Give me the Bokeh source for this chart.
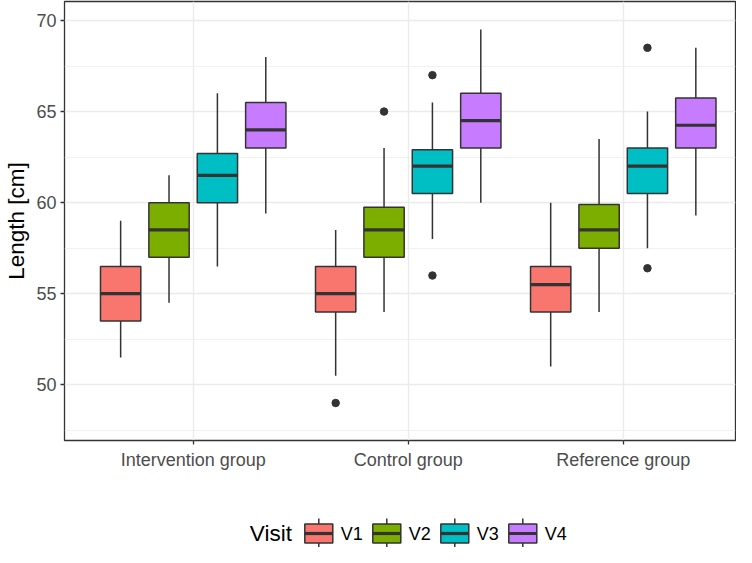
from bokeh.plotting import figure
from bokeh.models import ColumnDataSource, FixedTicker, Range1d
from bokeh.layouts import column
from bokeh.embed import file_html
from bokeh.resources import INLINE
from bokeh.core.properties import value

# ---------------- data ----------------
groups = ["Intervention group", "Control group", "Reference group"]
visits = ["V1", "V2", "V3", "V4"]
colors = ["#F8766D", "#7CAE00", "#00BFC4", "#C77CFF"]

# box statistics, group-major order (group x visit)
whisker_low = [51.5, 54.5, 56.5, 59.4,
               50.5, 54.0, 58.0, 60.0,
               51.0, 54.0, 57.5, 59.3]
q1 = [53.5, 57.0, 60.0, 63.0,
      54.0, 57.0, 60.5, 63.0,
      54.0, 57.5, 60.5, 63.0]
median = [55.0, 58.5, 61.5, 64.0,
          55.0, 58.5, 62.0, 64.5,
          55.5, 58.5, 62.0, 64.25]
q3 = [56.5, 60.0, 62.7, 65.5,
      56.5, 59.75, 62.9, 66.0,
      56.5, 59.9, 63.0, 65.75]
whisker_high = [59.0, 61.5, 66.0, 68.0,
                58.5, 63.0, 65.5, 69.5,
                60.0, 63.5, 65.0, 68.5]

out_group = ["Control group", "Control group", "Control group", "Control group",
             "Reference group", "Reference group"]
out_visit = ["V1", "V2", "V3", "V3", "V3", "V3"]
out_value = [49.0, 65.0, 67.0, 56.0, 68.5, 56.4]

y_ticks = [50, 55, 60, 65, 70]
y_minor = [47.5, 52.5, 57.5, 62.5, 67.5]

# ---------------- layout helpers ----------------
DODGE = 0.9
BOX_W = 0.75 / 4
FONT = "Liberation Sans"
DARK = "#333333"
W = 736
BL, BR = 64, 1
H_MAIN, H_LEG = 490, 57


def xpos(g, v):
    gi = groups.index(g)
    vi = visits.index(v)
    return gi + 1 + (vi - (len(visits) - 1) / 2) * DODGE / len(visits)


bx, bcol = [], []
for g in groups:
    for i, v in enumerate(visits):
        bx.append(xpos(g, v))
        bcol.append(colors[i])

src = ColumnDataSource(dict(
    x=bx, x0=[x - BOX_W / 2 for x in bx], x1=[x + BOX_W / 2 for x in bx],
    lo=whisker_low, q1=q1, med=median, q3=q3, hi=whisker_high, color=bcol))

osrc = ColumnDataSource(dict(
    x=[xpos(g, v) for g, v in zip(out_group, out_visit)], y=out_value))

# ---------------- main figure ----------------
p = figure(width=W, height=H_MAIN, title=None,
           x_range=Range1d(0.4014, 3.522), y_range=Range1d(46.942, 71.043),
           output_backend="svg", toolbar_location=None,
           min_border_left=BL, min_border_right=BR, min_border_top=1,
           min_border_bottom=H_MAIN - 440)
p.background_fill_color = "white"
p.border_fill_color = "white"
p.outline_line_color = DARK
p.outline_line_width = 1.3

# grids
p.ygrid.ticker = FixedTicker(ticks=y_ticks, minor_ticks=y_minor)
p.ygrid.grid_line_color = "#EBEBEB"
p.ygrid.grid_line_width = 1.4
p.ygrid.minor_grid_line_color = "#EBEBEB"
p.ygrid.minor_grid_line_width = 0.7
p.xgrid.ticker = FixedTicker(ticks=[1, 2, 3])
p.xgrid.grid_line_color = "#EBEBEB"
p.xgrid.grid_line_width = 1.4

# axes
p.yaxis.ticker = FixedTicker(ticks=y_ticks, minor_ticks=y_minor)
p.xaxis.ticker = FixedTicker(ticks=[1, 2, 3])
p.xaxis.major_label_overrides = {i + 1: g for i, g in enumerate(groups)}
for ax in (p.xaxis, p.yaxis):
    ax.axis_line_color = None
    ax.major_tick_line_color = DARK
    ax.major_tick_line_width = 1.3
    ax.major_tick_out = 4
    ax.major_tick_in = 0
    ax.minor_tick_line_color = None
    ax.major_label_text_color = "#4D4D4D"
    ax.major_label_text_font = FONT
    ax.major_label_text_font_size = "18px"
p.xaxis.major_label_standoff = 5
p.yaxis.major_label_standoff = 4
p.yaxis.axis_label = "Length [cm]"
p.yaxis.axis_label_text_font = FONT
p.yaxis.axis_label_text_font_size = "22.5px"
p.yaxis.axis_label_text_font_style = "normal"
p.yaxis.axis_label_text_color = "black"
p.yaxis.axis_label_standoff = 4

# boxplots
p.segment(x0="x", y0="lo", x1="x", y1="q1", source=src,
          line_color=DARK, line_width=1.5)
p.segment(x0="x", y0="q3", x1="x", y1="hi", source=src,
          line_color=DARK, line_width=1.5)
p.vbar(x="x", width=BOX_W, bottom="q1", top="q3", source=src,
       fill_color="color", line_color=DARK, line_width=1.5)
p.segment(x0="x0", y0="med", x1="x1", y1="med", source=src,
          line_color=DARK, line_width=3.2)
p.scatter(x="x", y="y", source=osrc, size=7.5,
          fill_color=DARK, line_color=DARK)

# ---------------- legend (separate strip, pixel coordinates) ----------------
leg = figure(width=W, height=H_LEG, x_range=Range1d(BL, W - BR),
             y_range=Range1d(H_LEG, 0),
             output_backend="svg", toolbar_location=None, title=None,
             x_axis_type=None, y_axis_type=None,
             min_border_left=BL, min_border_right=BR, min_border_top=0,
             min_border_bottom=0)
leg.outline_line_color = None
leg.background_fill_color = "white"
leg.border_fill_color = "white"
leg.xgrid.visible = False
leg.ygrid.visible = False

KEY_X0, KEY_STEP, KEY_W = 304.3, 68.0, 28.0
mid = 43.0
KEY_TOP, KEY_BOT = mid - 9.5, mid + 9.5
WH_TOP, WH_BOT = mid - 15.0, mid + 15.0
kx0 = [KEY_X0 + KEY_STEP * i for i in range(len(visits))]
kxc = [x + KEY_W / 2 for x in kx0]
leg.segment(x0=kxc, y0=[WH_TOP] * 4, x1=kxc, y1=[WH_BOT] * 4,
            line_color=DARK, line_width=1.5)
leg.quad(left=kx0, right=[x + KEY_W for x in kx0], top=[KEY_TOP] * 4,
         bottom=[KEY_BOT] * 4, fill_color=colors, line_color=DARK, line_width=1.5)
leg.segment(x0=kx0, y0=[mid] * 4, x1=[x + KEY_W for x in kx0], y1=[mid] * 4,
            line_color=DARK, line_width=3.2)
leg.text(x=[249.3], y=[mid], text=["Visit"], text_baseline="middle",
         text_font=value(FONT), text_font_size="22.5px", text_color="black")
leg.text(x=[x + KEY_W + 8 for x in kx0], y=[mid] * 4, text=visits,
         text_baseline="middle", text_font=value(FONT), text_font_size="18px",
         text_color="black")

layout = column(p, leg, spacing=0)
open("out.html", "w").write(file_html(layout, INLINE))
